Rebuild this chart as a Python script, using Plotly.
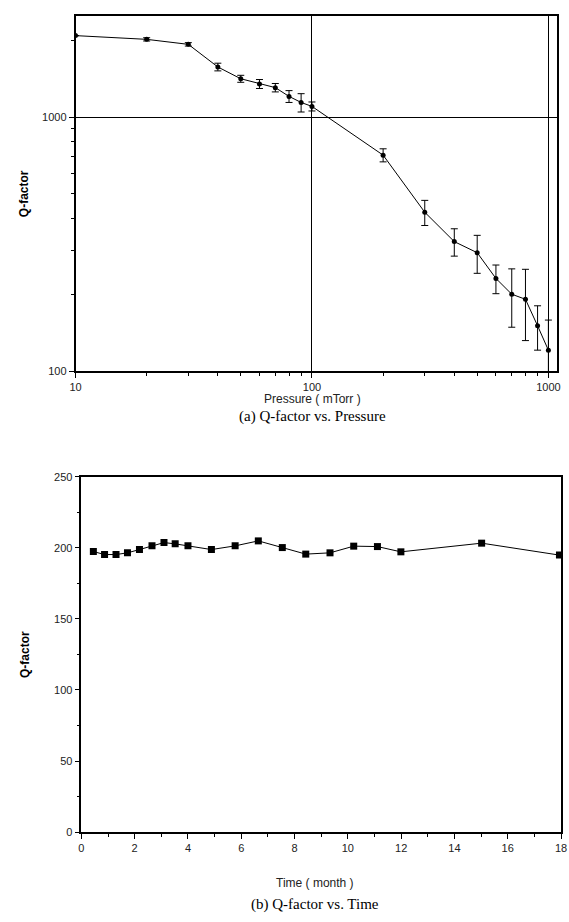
import plotly.graph_objects as go

# ---- Data: (a) Q-factor vs Pressure ----
pressure = [10, 20, 30, 40, 50, 60, 70, 80, 90, 100, 200, 300, 400, 500, 600, 700, 800, 900, 1000]
q_pressure = [2100, 2030, 1940, 1580, 1420, 1355, 1310, 1210, 1145, 1105, 710, 423, 324, 293, 232, 201, 192, 151, 121]
q_err = [0, 30, 30, 55, 45, 55, 50, 65, 95, 45, 42, 48, 40, 50, 30, 52, 60, 30, 38]

# ---- Data: (b) Q-factor vs Time ----
time_month = [0.45, 0.87, 1.3, 1.73, 2.18, 2.65, 3.1, 3.52, 4.0, 4.88, 5.77, 6.64, 7.54,
              8.42, 9.33, 10.22, 11.11, 11.99, 15.02, 17.94]
q_time = [197.4, 195.3, 195.3, 196.5, 198.8, 201.4, 203.7, 202.8, 201.4, 198.8, 201.4, 204.9, 200.2,
          195.6, 196.5, 201.2, 200.9, 197.2, 203.3, 194.9]

W, H = 569, 922
def px(x):
    return x / W
def py(y):
    return 1 - y / H

tick_font = dict(family="Liberation Sans, Arial, sans-serif", size=11, color="#222")

fig = go.Figure()
fig.add_trace(go.Scatter(
    x=pressure, y=q_pressure, mode="lines+markers",
    line=dict(color="black", width=1),
    marker=dict(color="black", size=5, symbol="circle"),
    error_y=dict(type="data", array=q_err, visible=True, color="black", thickness=1, width=3.5),
    xaxis="x", yaxis="y", showlegend=False,
))
fig.add_trace(go.Scatter(
    x=time_month, y=q_time, mode="lines+markers",
    line=dict(color="black", width=1),
    marker=dict(color="black", size=7, symbol="square"),
    xaxis="x2", yaxis="y2", showlegend=False,
))

axis_common = dict(showline=True, linecolor="black", linewidth=1.5, mirror=True,
                   ticks="outside", tickcolor="black", tickfont=tick_font, zeroline=False)

fig.update_layout(
    width=W, height=H,
    margin=dict(l=0, r=0, t=0, b=0),
    paper_bgcolor="white", plot_bgcolor="white",
    xaxis=dict(domain=[px(71), px(563)], type="log", range=[1, 3.037], dtick=1,
               showgrid=True, gridcolor="black", gridwidth=1, ticklen=5,
               minor=dict(ticks="outside", ticklen=3, tickcolor="black", showgrid=False),
               anchor="y", **axis_common),
    yaxis=dict(domain=[py(370), py(10)], type="log", range=[2, 3.40], dtick=1,
               showgrid=True, gridcolor="black", gridwidth=1, ticklen=5,
               minor=dict(ticks="outside", ticklen=3, tickcolor="black", showgrid=False),
               anchor="x", **axis_common),
    xaxis2=dict(domain=[px(77), px(567)], range=[0, 18], dtick=2, ticklen=5,
                showgrid=False, ticklabeloverflow="allow",
                minor=dict(ticks="outside", dtick=1, ticklen=3, tickcolor="black", showgrid=False),
                anchor="y2", **axis_common),
    yaxis2=dict(domain=[py(837), py(477)], range=[0, 250], dtick=50, ticklen=5,
                showgrid=False,
                minor=dict(ticks="outside", dtick=25, ticklen=3, tickcolor="black", showgrid=False),
                anchor="x2", **axis_common),
)

label_font = dict(family="Liberation Sans, Arial, sans-serif", size=12, color="#222")
title_font = dict(family="Liberation Sans, Arial, sans-serif", size=12, color="black")
cap_font = dict(family="Liberation Serif, Times New Roman, serif", size=15, color="black")

annotations = [
    dict(text="<b>Q-factor</b>", x=px(18), y=py(190), textangle=-90, font=title_font),
    dict(text="Pressure ( mTorr )", x=px(313), y=py(398), font=label_font),
    dict(text="(a) Q-factor vs. Pressure", x=px(313), y=py(416), font=cap_font),
    dict(text="<b>Q-factor</b>", x=px(20), y=py(657), textangle=-90, font=title_font),
    dict(text="Time ( month )", x=px(316), y=py(889), font=label_font),
    dict(text="(b) Q-factor vs. Time", x=px(316), y=py(910), font=cap_font),
]
for a in annotations:
    fig.add_annotation(xref="paper", yref="paper", showarrow=False,
                       xanchor="center", yanchor="middle", **a)

fig.write_html("out.html")
